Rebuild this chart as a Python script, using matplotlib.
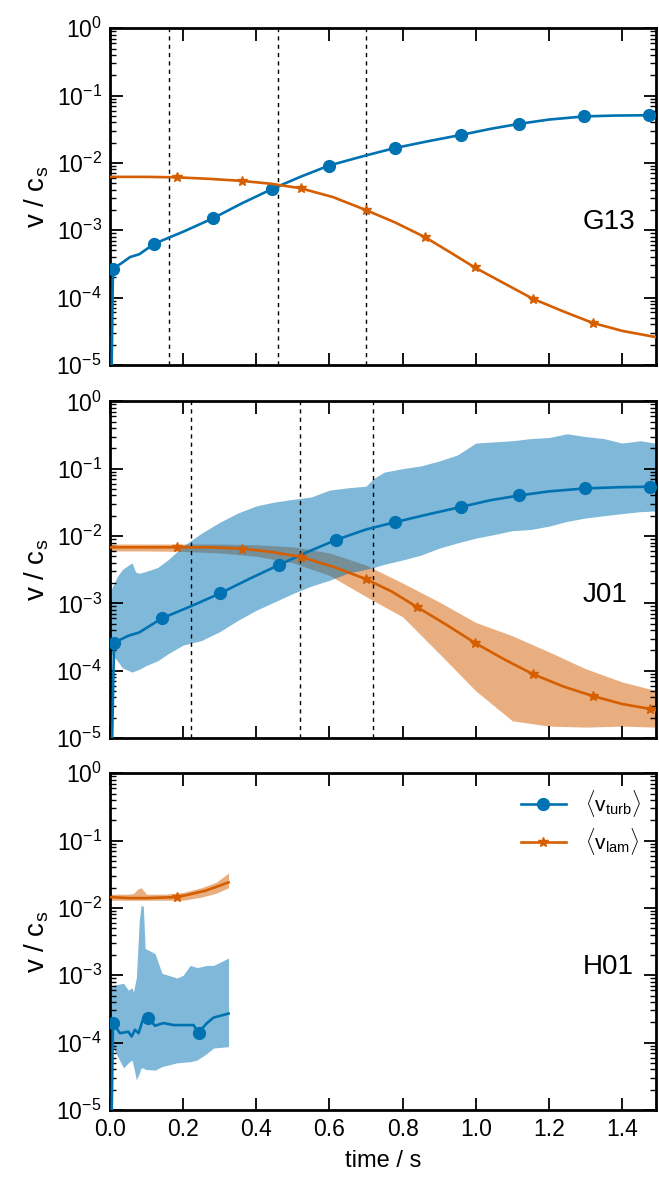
import numpy as np
import matplotlib
matplotlib.use("Agg")
import matplotlib.pyplot as plt

plt.rcParams['font.family'] = ['Liberation Sans', 'DejaVu Sans']
plt.rcParams['mathtext.fontset'] = 'custom'
plt.rcParams['mathtext.rm'] = 'Liberation Sans'
plt.rcParams['mathtext.it'] = 'Liberation Sans:italic'
plt.rcParams['mathtext.bf'] = 'Liberation Sans:bold'

BLUE = '#0072B2'
ORANGE = '#D55E00'

# ---------------- G13 ----------------
g13_turb_t = [0.002, 0.008, 0.03, 0.055, 0.08, 0.121, 0.2, 0.281, 0.36, 0.443, 0.52, 0.598,
              0.69, 0.778, 0.87, 0.959, 1.04, 1.118, 1.2, 1.296, 1.38, 1.474, 1.49]
g13_turb_v = [1e-6, 2.7e-4, 3.2e-4, 4.0e-4, 4.4e-4, 6.3e-4, 9.5e-4, 1.5e-3, 2.5e-3, 4.1e-3, 6.2e-3,
              9.1e-3, 1.25e-2, 1.66e-2, 2.1e-2, 2.6e-2, 3.2e-2, 3.8e-2, 4.4e-2, 4.9e-2, 5.05e-2,
              5.1e-2, 5.1e-2]
g13_turb_mk = [1, 5, 7, 9, 11, 13, 15, 17, 19, 21]

g13_lam_t = [0.0, 0.1, 0.183, 0.27, 0.361, 0.44, 0.521, 0.61, 0.699, 0.78, 0.861, 0.93, 0.997,
             1.08, 1.156, 1.24, 1.32, 1.40, 1.49]
g13_lam_v = [6.2e-3, 6.2e-3, 6.1e-3, 5.8e-3, 5.4e-3, 4.9e-3, 4.2e-3, 3.1e-3, 2.0e-3, 1.3e-3,
             7.9e-4, 4.7e-4, 2.8e-4, 1.6e-4, 9.6e-5, 6.2e-5, 4.2e-5, 3.2e-5, 2.6e-5]
g13_lam_mk = [2, 4, 6, 8, 10, 12, 14, 16]

g13_vlines = [0.16, 0.46, 0.70]

# ---------------- J01 ----------------
j01_turb_t = [0.002, 0.011, 0.05, 0.08, 0.142, 0.22, 0.30, 0.38, 0.461, 0.54, 0.619, 0.70,
              0.778, 0.87, 0.959, 1.04, 1.118, 1.2, 1.30, 1.39, 1.477, 1.49]
j01_turb_v = [1e-6, 2.6e-4, 3.3e-4, 3.7e-4, 6.0e-4, 9.0e-4, 1.4e-3, 2.3e-3, 3.7e-3, 5.8e-3,
              8.8e-3, 1.25e-2, 1.6e-2, 2.1e-2, 2.7e-2, 3.4e-2, 4.0e-2, 4.6e-2, 5.1e-2, 5.3e-2,
              5.4e-2, 5.4e-2]
j01_turb_mk = [1, 4, 6, 8, 10, 12, 14, 16, 18, 20]

j01_turb_band_t = [0.003, 0.02, 0.034, 0.06, 0.07, 0.08, 0.10, 0.13, 0.16, 0.2, 0.25, 0.30, 0.35,
                   0.40, 0.45, 0.50, 0.55, 0.6, 0.65, 0.70, 0.72, 0.75, 0.8, 0.85, 0.9, 0.95, 1.0,
                   1.05, 1.1, 1.15, 1.2, 1.25, 1.30, 1.35, 1.40, 1.45, 1.49]
j01_turb_hi = [1.6e-3, 2.5e-3, 3.2e-3, 4.0e-3, 2.9e-3, 2.8e-3, 3.0e-3, 3.4e-3, 4.5e-3, 7.1e-3,
               1.1e-2, 1.6e-2, 2.2e-2, 2.8e-2, 3.2e-2, 3.5e-2, 3.8e-2, 4.8e-2, 5.2e-2, 5.5e-2,
               7.1e-2, 8.9e-2, 0.10, 0.11, 0.13, 0.16, 0.24, 0.25, 0.26, 0.28, 0.29, 0.33, 0.30,
               0.28, 0.24, 0.26, 0.24]
j01_turb_lo = [1.8e-4, 1.4e-4, 1.1e-4, 9.5e-5, 1.0e-4, 1.05e-4, 1.2e-4, 1.4e-4, 1.8e-4, 2.4e-4,
               2.8e-4, 3.8e-4, 5.6e-4, 7.9e-4, 1.05e-3, 1.4e-3, 1.8e-3, 2.2e-3, 2.8e-3, 3.2e-3,
               3.4e-3, 3.8e-3, 4.4e-3, 5.2e-3, 6.6e-3, 7.9e-3, 9.3e-3, 1.05e-2, 1.2e-2, 1.25e-2,
               1.4e-2, 1.65e-2, 1.85e-2, 2.0e-2, 2.15e-2, 2.3e-2, 2.35e-2]

j01_lam_t = [0.0, 0.1, 0.184, 0.27, 0.362, 0.44, 0.521, 0.61, 0.699, 0.77, 0.838, 0.92, 0.997,
             1.08, 1.156, 1.24, 1.32, 1.40, 1.477, 1.49]
j01_lam_v = [6.8e-3, 6.8e-3, 6.8e-3, 6.8e-3, 6.5e-3, 5.8e-3, 4.9e-3, 3.5e-3, 2.3e-3, 1.5e-3,
             8.9e-4, 4.8e-4, 2.6e-4, 1.45e-4, 8.9e-5, 5.8e-5, 4.2e-5, 3.2e-5, 2.7e-5, 2.6e-5]
j01_lam_mk = [2, 4, 6, 8, 10, 12, 14, 16, 18]

j01_lam_band_t = [0.0, 0.1, 0.2, 0.3, 0.4, 0.5, 0.6, 0.7, 0.8, 0.9, 1.0, 1.1, 1.2, 1.3, 1.4, 1.49]
j01_lam_hi = [7.6e-3, 7.6e-3, 7.6e-3, 7.6e-3, 7.4e-3, 6.9e-3, 5.6e-3, 3.7e-3, 2.0e-3, 1.05e-3,
              5.2e-4, 3.3e-4, 1.9e-4, 1.07e-4, 6.8e-5, 5.1e-5]
j01_lam_lo = [6.0e-3, 6.0e-3, 5.9e-3, 5.6e-3, 5.0e-3, 4.0e-3, 2.6e-3, 1.26e-3, 6.3e-4, 1.8e-4,
              5.0e-5, 1.8e-5, 1.5e-5, 1.45e-5, 1.5e-5, 1.45e-5]

j01_vlines = [0.22, 0.52, 0.72]

# ---------------- H01 ----------------
h01_turb_t = [0.002, 0.008, 0.027, 0.050, 0.059, 0.068, 0.078, 0.091, 0.103, 0.123, 0.146,
              0.174, 0.228, 0.242, 0.265, 0.283, 0.324]
h01_turb_v = [1e-6, 1.95e-4, 1.38e-4, 1.45e-4, 1.23e-4, 1.55e-4, 1.38e-4, 2.3e-4, 2.35e-4,
              1.78e-4, 1.95e-4, 1.82e-4, 1.82e-4, 1.41e-4, 1.95e-4, 2.35e-4, 2.7e-4]
h01_turb_mk = [1, 8, 13]

h01_turb_band_t = [0.003, 0.009, 0.037, 0.050, 0.060, 0.064, 0.072, 0.080, 0.085, 0.091, 0.096,
                   0.123, 0.142, 0.183, 0.2, 0.219, 0.238, 0.265, 0.283, 0.324]
h01_turb_hi = [6.8e-4, 7.1e-4, 7.6e-4, 6.0e-4, 6.5e-4, 5.6e-4, 9.3e-4, 6.6e-3, 1.1e-2, 1.05e-2,
               2.5e-3, 2.1e-3, 1.07e-3, 9.1e-4, 1.0e-3, 1.4e-3, 1.3e-3, 1.4e-3, 1.4e-3, 1.8e-3]
h01_turb_lo = [1.0e-4, 8.3e-5, 4.2e-5, 5.0e-5, 5.5e-5, 4.5e-5, 2.8e-5, 3.5e-5, 4.2e-5, 4.2e-5,
               4.0e-5, 3.9e-5, 4.4e-5, 5.0e-5, 5.1e-5, 5.2e-5, 5.5e-5, 6.9e-5, 8.3e-5, 8.7e-5]

h01_lam_t = [0.0, 0.05, 0.1, 0.184, 0.22, 0.26, 0.29, 0.324]
h01_lam_v = [1.45e-2, 1.4e-2, 1.4e-2, 1.45e-2, 1.6e-2, 1.8e-2, 2.05e-2, 2.4e-2]
h01_lam_mk = [3]

h01_lam_band_t = [0.0, 0.05, 0.065, 0.075, 0.085, 0.1, 0.15, 0.2, 0.25, 0.29, 0.324]
h01_lam_hi = [1.6e-2, 1.6e-2, 1.65e-2, 1.9e-2, 2.0e-2, 1.6e-2, 1.6e-2, 1.7e-2, 2.0e-2, 2.4e-2, 3.3e-2]
h01_lam_lo = [1.3e-2, 1.3e-2, 1.3e-2, 1.3e-2, 1.3e-2, 1.3e-2, 1.3e-2, 1.3e-2, 1.45e-2, 1.65e-2, 2.0e-2]

labels = ['G13', 'J01', 'H01']

fig = plt.figure(figsize=(6.59, 11.77), dpi=100)
left, width = 0.167, 0.828
bottoms = [0.690, 0.373, 0.057]
height = 0.286
axes = [fig.add_axes([left, b, width, height]) for b in bottoms]


def style_axis(ax):
    ax.set_yscale('log')
    ax.set_ylim(1e-5, 1)
    ax.set_xlim(0, 1.492)
    ax.set_xticks([0.0, 0.2, 0.4, 0.6, 0.8, 1.0, 1.2, 1.4])
    ax.tick_params(which='both', direction='in', top=True, right=True, labelsize=16.5, pad=6)
    ax.tick_params(which='major', length=9, width=1.3)
    ax.tick_params(which='minor', length=4.5, width=1.0)
    for sp in ax.spines.values():
        sp.set_linewidth(2.0)
    ax.set_ylabel(r'$\mathrm{v}\ /\ \mathrm{c_s}$', fontsize=20, labelpad=4)


def plot_line(ax, t, v, mk, color, marker, ms, label=None):
    ax.plot(t, v, color=color, lw=1.9, marker=marker, markevery=mk, ms=ms,
            mec=color, mfc=color, zorder=3, label=label)


# G13
ax = axes[0]
plot_line(ax, g13_turb_t, g13_turb_v, g13_turb_mk, BLUE, 'o', 8.5)
plot_line(ax, g13_lam_t, g13_lam_v, g13_lam_mk, ORANGE, '*', 7.5)
for xv in g13_vlines:
    ax.axvline(xv, color='k', ls=(0, (3, 3)), lw=1.0, zorder=2)

# J01
ax = axes[1]
ax.fill_between(j01_lam_band_t, j01_lam_lo, j01_lam_hi, color=ORANGE, alpha=0.5, lw=0, zorder=1)
ax.fill_between(j01_turb_band_t, j01_turb_lo, j01_turb_hi, color=BLUE, alpha=0.5, lw=0, zorder=1)
plot_line(ax, j01_turb_t, j01_turb_v, j01_turb_mk, BLUE, 'o', 8.5)
plot_line(ax, j01_lam_t, j01_lam_v, j01_lam_mk, ORANGE, '*', 7.5)
for xv in j01_vlines:
    ax.axvline(xv, color='k', ls=(0, (3, 3)), lw=1.0, zorder=2)

# H01
ax = axes[2]
ax.fill_between(h01_lam_band_t, h01_lam_lo, h01_lam_hi, color=ORANGE, alpha=0.5, lw=0, zorder=1)
ax.fill_between(h01_turb_band_t, h01_turb_lo, h01_turb_hi, color=BLUE, alpha=0.5, lw=0, zorder=1)
plot_line(ax, h01_turb_t, h01_turb_v, h01_turb_mk, BLUE, 'o', 8.5,
          label=r'$\langle\mathrm{v}_{\mathrm{turb}}\rangle$')
plot_line(ax, h01_lam_t, h01_lam_v, h01_lam_mk, ORANGE, '*', 7.5,
          label=r'$\langle\mathrm{v}_{\mathrm{lam}}\rangle$')
ax.legend(loc='upper right', frameon=False, fontsize=15, handlelength=2.2,
          borderaxespad=0.3, labelspacing=0.35, handletextpad=0.9)

for ax, lab in zip(axes, labels):
    style_axis(ax)
    ax.text(0.866, 0.425, lab, transform=ax.transAxes, fontsize=20, ha='left', va='center')

axes[0].tick_params(labelbottom=False)
axes[1].tick_params(labelbottom=False)
axes[2].set_xlabel('time / s', fontsize=17, labelpad=6)

fig.savefig('out.png', dpi=100)
